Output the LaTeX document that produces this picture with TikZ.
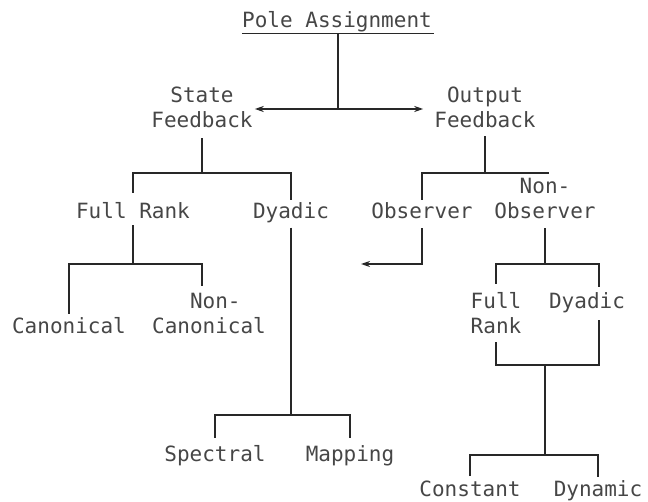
\documentclass[tikz,border=0pt]{standalone}
\usepackage{fontspec}
\setmonofont{DejaVu Sans Mono}
\usepackage{tikz}
\usetikzlibrary{arrows.meta,positioning}
\definecolor{ink}{RGB}{40,40,40}
\definecolor{inktext}{RGB}{70,70,70}

\begin{document}
\begin{tikzpicture}[x=1pt, y=-1pt,
        lbl/.style={font=\ttfamily\fontsize{21}{25}\selectfont, text=inktext, align=center, inner sep=0pt, anchor=base},
        link/.style={draw=ink, line width=1.5pt},
        arrow/.style={link, ->, >={Stealth[length=9pt,width=6pt]}}
    ]
        \useasboundingbox (0,0) rectangle (648,502);

        % Labels (multi-line labels sit on their last line)
        \node[lbl] (pole) at (337,28) {Pole Assignment};
        \node[lbl] (sf) at (202,128) {State\\Feedback};
        \node[lbl] (of) at (485,128) {Output\\Feedback};
        \node[lbl] (fr) at (133,219) {Full Rank};
        \node[lbl] (dy) at (291,219) {Dyadic};
        \node[lbl] (ob) at (422,219) {Observer};
        \node[lbl] (no) at (545,219) {Non-\\Observer};
        \node[lbl] (ca) at (69,334) {Canonical};
        \node[lbl] (nc) at (209,334) {\phantom{N}Non-\\Canonical};
        \node[lbl] (sp) at (215,461) {Spectral};
        \node[lbl] (mp) at (350,461) {Mapping};
        \node[lbl] (rk) at (496,334) {Full\\Rank};
        \node[lbl] (dy2) at (587,309) {Dyadic};
        \node[lbl] (cs) at (470,496) {Constant};
        \node[lbl] (dn) at (598,496) {Dynamic};

        % Junctions
        \coordinate (jtop) at (338,109);
        \coordinate (jsf) at (202,173);
        \coordinate (jof) at (485,173);
        \coordinate (jfr) at (133,264);
        \coordinate (jdy) at (291,415);
        \coordinate (obout) at (361,264);
        \coordinate (jno) at (545,264);
        \coordinate (jrk) at (545,365);
        \coordinate (jcd) at (545,455);

        % Pole assignment
        \draw[link] ([yshift=-1pt]pole.south west) -- ([yshift=-1pt,xshift=2pt]pole.south east);
        \draw[link] ([yshift=-1pt]pole.south -| jtop) -- (jtop);
        \draw[arrow, <->] ([xshift=2pt]sf.east |- jtop) -- ([xshift=-11pt]of.west |- jtop);

        % State feedback branch
        \draw[link, shorten <=10pt] (sf.south) -- (jsf);
        \draw[link, shorten <=10pt, shorten >=3pt] (fr.north) |- (jsf) -| (dy.north);
        \draw[link, shorten <=6pt] (fr.south) -- (jfr);
        \draw[link, shorten <=4pt, shorten >=7pt] (ca.north) |- (jfr) -| ([xshift=-7pt]nc.north);
        \draw[link, shorten <=4pt] (dy.south) -- (jdy);
        \draw[link, shorten <=7pt, shorten >=7pt] (sp.north) |- (jdy) -| (mp.north);

        % Output feedback branch
        \draw[link, shorten <=8pt] (of.south) -- (jof);
        \draw[link, shorten <=3pt] (ob.north) |- (jof) -- ++(64,0);
        \draw[arrow, shorten <=9pt] (ob.south) |- (obout);
        \draw[link, shorten <=9pt] (no.south) -- (jno);
        \draw[link, shorten <=9pt, shorten >=6pt] (rk.north) |- (jno) -| ([xshift=12pt]dy2.north);
        \draw[link, shorten <=8pt, shorten >=6pt] (rk.south) |- (jrk) -| ([xshift=12pt]dy2.south);
        \draw[link] (jrk) -- (jcd);
        \draw[link, shorten <=4pt, shorten >=3pt] (cs.north) |- (jcd) -| (dn.north);

    \end{tikzpicture}
\end{document}
